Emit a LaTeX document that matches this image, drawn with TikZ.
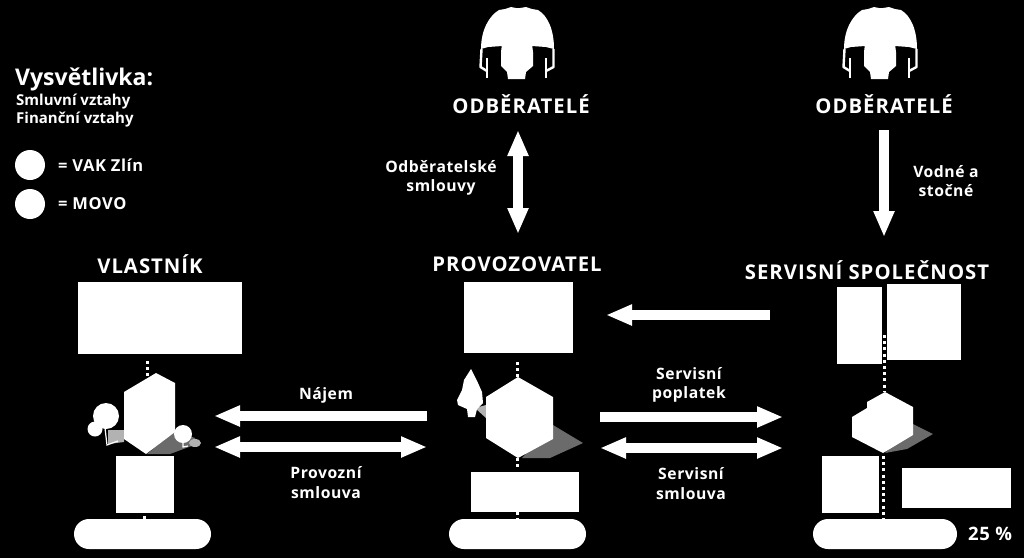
\documentclass[tikz,border=0pt]{standalone}
\usepackage{fontspec}
\setmainfont{Open Sans}
\newfontfamily\trkh[LetterSpace=5]{Open Sans}
\newfontfamily\trkl[LetterSpace=3.5]{Open Sans}
\usetikzlibrary{arrows.meta}
\definecolor{shadeg}{gray}{0.42}
\definecolor{shadel}{gray}{0.7}
\tikzset{
  pill/.style={fill=white,draw=none,rounded corners=15pt,inner sep=0pt},
  head/.style={white,font=\fontsize{20.3}{22}\trkh\bfseries,inner sep=0pt},
  lab/.style={white,font=\fontsize{15.7}{19.5}\trkl\bfseries,align=center,inner sep=0pt},
  leg/.style={white,font=\fontsize{15}{19}\selectfont\bfseries,anchor=west,inner sep=0pt},
  legk/.style={white,font=\fontsize{16.5}{19}\trkl\bfseries,anchor=west,inner sep=0pt},
  fat/.style={draw=white,line width=9.3pt,-{Triangle[length=26pt,width=19.5pt]}},
  fatb/.style={draw=white,line width=9.3pt,{Triangle[length=26pt,width=19.5pt]}-{Triangle[length=26pt,width=19.5pt]}},
  dots/.style={draw=white,line width=3pt,dash pattern=on 3pt off 3.2pt},
  strap/.style={draw=white,line width=2.4pt,line join=round},
}
\newcommand{\rbox}[5]{\node[fill=white,inner sep=0pt,minimum width=#4-#2,minimum height=#5-#3,anchor=north west] (#1) at (#2,#3) {};}
\begin{document}
\begin{tikzpicture}[x=1pt,y=-1pt]
\fill[black] (0,0) rectangle (1024,558);
\useasboundingbox (0,0) rectangle (1024,558);
% customers
\foreach \dx in {0,363}{
\begin{scope}[shift={(\dx,0)}]
  \fill[white] (481,49) .. controls (481,30) and (489,16) .. (499,10) -- (505,9) -- (511,7) -- (516,8) -- (520,8) -- (526,7) -- (532,9) -- (538,10) .. controls (548,16) and (554,30) .. (554,49) -- (546,47) -- (532,46) -- (502,46) -- (488,47) -- cycle;
  \fill[white] (502,44) -- (532,44) -- (533,52) -- (533,66) -- (526,72) -- (525,79) -- (508,79) -- (507,72) -- (501,66) -- (501,52) -- cycle;
  \draw[strap] (481.5,49) -- (480.5,67) -- (487,71);
  \draw[strap] (487,58) -- (487,78);
  \draw[strap] (553.5,49) -- (553.5,67) -- (546,71);
  \draw[strap] (546,58) -- (546,78);
\end{scope}
}
\node[head] (c1) at (521,104) {ODBĚRATELÉ};
\node[head] (c2) at (884,104) {ODBĚRATELÉ};
% legend
\node[white,font=\fontsize{23}{28}\selectfont\bfseries,anchor=west,inner sep=0pt] (lt) at (15,79) {Vysvětlivka:};
\node[leg] (l1) at (16,101.5) {Smluvní vztahy};
\node[leg] (l2) at (16,120) {Finanční vztahy};
\node[circle,fill=white,minimum size=30pt,inner sep=0pt] (c3) at (30,165) {};
\node[circle,fill=white,minimum size=30pt,inner sep=0pt] (c4) at (30,204) {};
\node[legk] (l3) at (58,165) {= VAK Zlín};
\node[legk] (l4) at (58,204) {= MOVO};
% headings
\node[head] (h1) at (150,264.5) {VLASTNÍK};
\node[head] (h2) at (517,264.5) {PROVOZOVATEL};
\node[head] (h3) at (867,270.5) {SERVISNÍ SPOLEČNOST};
% boxes
\rbox{a1}{78}{282}{242}{354}
\rbox{a2}{115.5}{456}{174}{513}
\rbox{b1}{464}{282}{573}{353}
\rbox{b2}{471}{472}{579}{512}
\rbox{d1}{837}{287}{882}{364}
\rbox{d2}{886.5}{284}{961}{360}
\rbox{d3}{822}{456}{879}{512.5}
\rbox{d4}{902}{468}{1011}{508}
\node[pill,minimum width=137pt,minimum height=30pt] (p1) at (142.5,534) {};
\node[pill,minimum width=137pt,minimum height=30pt] (p2) at (517.5,534) {};
\node[pill,minimum width=144pt,minimum height=30pt] (p3) at (885,534) {};
\node[white,font=\fontsize{18.5}{20}\trkl\bfseries,inner sep=0pt] (pc) at (990,534) {25 \%};
% dotted links
\coordinate (q1a) at (147,361); \coordinate (q1b) at (147,376);
\draw[dots] (q1a) -- (q1b);
\coordinate (q1c) at (144,516); \coordinate (q1d) at (144,519);
\draw[dots] (q1c) -- (q1d);
\coordinate (q2a) at (517,362); \coordinate (q2b) at (517,378);
\draw[dots] (q2a) -- (q2b);
\coordinate (q2c) at (517,458); \coordinate (q2d) at (517,469);
\draw[dots] (q2c) -- (q2d);
\coordinate (q2e) at (517,512); \coordinate (q2f) at (517,520);
\draw[dots] (q2e) -- (q2f);
\coordinate (q3a) at (884,335); \coordinate (q3b) at (884,391);
\draw[dots] (q3a) -- (q3b);
\coordinate (q3c) at (883,456); \coordinate (q3d) at (883,519);
\draw[dots] (q3c) -- (q3d);
% building left
\fill[shadeg] (147,454) -- (175,431) -- (195,438) -- (197,444) -- (170,454) -- cycle;
\fill[shadel] (108,430) -- (124,430) -- (124,442) -- (108,444) -- cycle;
\fill[white] (156,373) -- (175,383) -- (175,432) -- (146,454) -- (124,439) -- (124,392) -- cycle;
\fill[white] (106,416) circle (13);
\fill[white] (95,429) circle (7.5);
\draw[white,line width=1.2pt] (105,428) -- (107,445) -- (118,441);
\fill[white] (183,434) circle (9);
\draw[white,line width=1.2pt] (183,438) -- (183,447) -- (188,446);
\fill[shadel] (195,443) ellipse (6 and 4);
% hexagon middle
\fill[shadeg] (553,425) -- (583,443) -- (550,458) -- (522,458) -- cycle;
\fill[shadel] (475,408) -- (486,405) -- (486,418) -- cycle;
\fill[white] (518,377) -- (553,397) -- (553,439) -- (518,458) -- (486,438) -- (486,397) -- cycle;
\fill[white] (471,369) -- (478,383) -- (482,392) -- (483,403) -- (477,409) -- (475,417) -- (468,417) -- (467,409) -- (458,405) -- (457,400) -- (462,390) -- (464,380) -- cycle;
% hexagon right
\fill[shadeg] (913,424) -- (933,434) -- (907,449) -- (885,453) -- cycle;
\fill[white] (885,392) -- (913,407) -- (913,435) -- (883,453) -- (852,437) -- (852,417) -- (867,408) -- (867,402) -- cycle;
% arrows
\coordinate (a1s) at (518,130); \coordinate (a1e) at (518,234);
\draw[fatb] (a1s) -- (a1e);
\coordinate (a2s) at (884,130); \coordinate (a2e) at (884,237);
\draw[fat] (a2s) -- (a2e);
\coordinate (a3s) at (770,315); \coordinate (a3e) at (606,315);
\draw[fat] (a3s) -- (a3e);
\coordinate (a4s) at (427,416); \coordinate (a4e) at (214,416);
\draw[fat] (a4s) -- (a4e);
\coordinate (a5s) at (214,447); \coordinate (a5e) at (427,447);
\draw[fatb] (a5s) -- (a5e);
\coordinate (a6s) at (600,417); \coordinate (a6e) at (783,417);
\draw[fat] (a6s) -- (a6e);
\coordinate (a7s) at (600,448); \coordinate (a7e) at (783,448);
\draw[fatb] (a7s) -- (a7e);
% labels
\node[lab] (t1) at (441,178) {Odběratelské\\smlouvy};
\node[lab] (t2) at (946,181) {Vodné a\\stočné};
\node[lab] (t3) at (326,395) {Nájem};
\node[lab] (t4) at (326,482.5) {Provozní\\smlouva};
\node[lab] (t5) at (689,385) {Servisní\\poplatek};
\node[lab] (t6) at (691,483.5) {Servisní\\smlouva};
\end{tikzpicture}
\end{document}
